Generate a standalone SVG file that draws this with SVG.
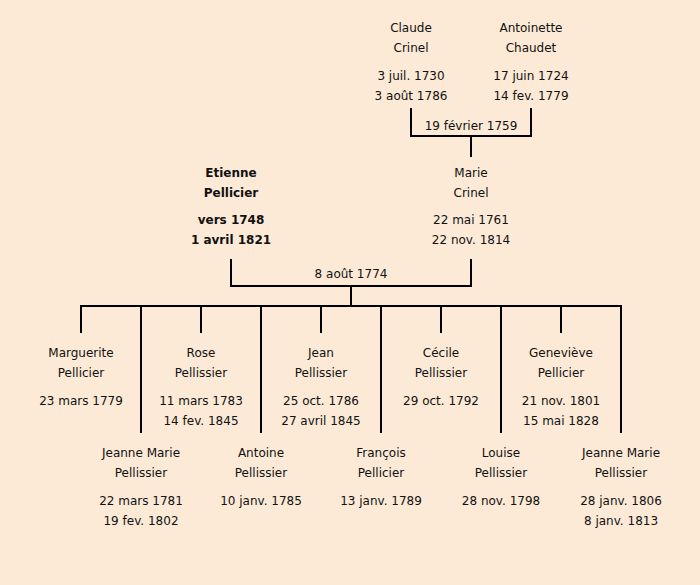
<svg xmlns="http://www.w3.org/2000/svg" width="700" height="585" viewBox="0 0 700 585">
<style>
text{font-family:"DejaVu Sans","Liberation Sans",sans-serif;font-size:12px;fill:#111;text-anchor:middle}
.b{font-weight:bold}
.c{stroke:#000;stroke-width:2;fill:none}
</style>
<rect width="700" height="585" fill="#FCEAD7"/>
<g id="connectors" class="c">
<path d="M411,108V136H531V108M471,136V157"/>
<path d="M231,259V286H471V259M351,286V306"/>
<path d="M81,333V306H621V433"/>
<path d="M141,306V433M261,306V433M381,306V433M501,306V433"/>
<path d="M201,306V333M321,306V333M441,306V333M561,306V333"/>
</g>
<text x="471" y="130">19 février 1759</text>
<text x="351" y="278">8 août 1774</text>
<g id="claude"><text x="411" y="32">Claude</text><text x="411" y="52">Crinel</text><text x="411" y="80">3 juil. 1730</text><text x="411" y="100">3 août 1786</text></g>
<g id="antoinette"><text x="531" y="32">Antoinette</text><text x="531" y="52">Chaudet</text><text x="531" y="80">17 juin 1724</text><text x="531" y="100">14 fev. 1779</text></g>
<g id="etienne"><text class="b" x="231" y="177">Etienne</text><text class="b" x="231" y="197">Pellicier</text><text class="b" x="231" y="224">vers 1748</text><text class="b" x="231" y="244">1 avril 1821</text></g>
<g id="marie"><text x="471" y="177">Marie</text><text x="471" y="197">Crinel</text><text x="471" y="224">22 mai 1761</text><text x="471" y="244">22 nov. 1814</text></g>
<g id="marguerite"><text x="81" y="357">Marguerite</text><text x="81" y="377">Pellicier</text><text x="81" y="405">23 mars 1779</text></g>
<g id="rose"><text x="201" y="357">Rose</text><text x="201" y="377">Pellissier</text><text x="201" y="405">11 mars 1783</text><text x="201" y="425">14 fev. 1845</text></g>
<g id="jean"><text x="321" y="357">Jean</text><text x="321" y="377">Pellissier</text><text x="321" y="405">25 oct. 1786</text><text x="321" y="425">27 avril 1845</text></g>
<g id="cecile"><text x="441" y="357">Cécile</text><text x="441" y="377">Pellissier</text><text x="441" y="405">29 oct. 1792</text></g>
<g id="genevieve"><text x="561" y="357">Geneviève</text><text x="561" y="377">Pellicier</text><text x="561" y="405">21 nov. 1801</text><text x="561" y="425">15 mai 1828</text></g>
<g id="jeanne-marie-1"><text x="141" y="457">Jeanne Marie</text><text x="141" y="477">Pellissier</text><text x="141" y="505">22 mars 1781</text><text x="141" y="525">19 fev. 1802</text></g>
<g id="antoine"><text x="261" y="457">Antoine</text><text x="261" y="477">Pellissier</text><text x="261" y="505">10 janv. 1785</text></g>
<g id="francois"><text x="381" y="457">François</text><text x="381" y="477">Pellicier</text><text x="381" y="505">13 janv. 1789</text></g>
<g id="louise"><text x="501" y="457">Louise</text><text x="501" y="477">Pellissier</text><text x="501" y="505">28 nov. 1798</text></g>
<g id="jeanne-marie-2"><text x="621" y="457">Jeanne Marie</text><text x="621" y="477">Pellissier</text><text x="621" y="505">28 janv. 1806</text><text x="621" y="525">8 janv. 1813</text></g>
</svg>
